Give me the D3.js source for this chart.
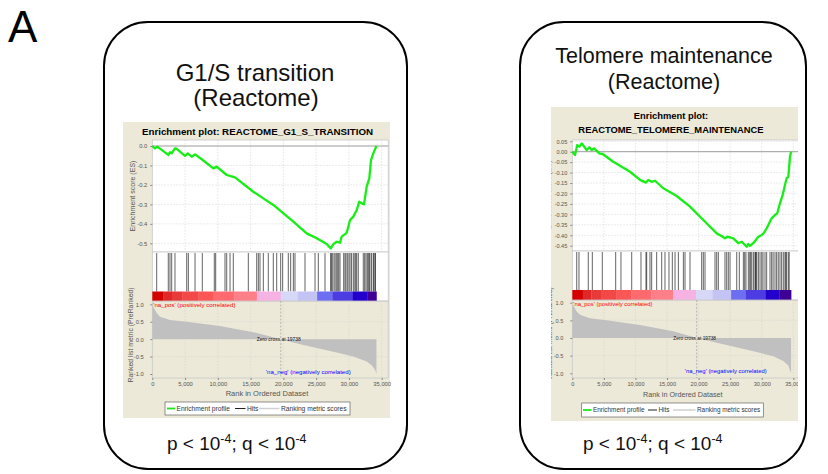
<!DOCTYPE html>
<html><head><meta charset="utf-8">
<script src="https://cdn.jsdelivr.net/npm/d3@7"></script>
<style>
body{margin:0;background:#fff}
svg{display:block}
text{font-family:"Liberation Sans",Arial,Helvetica,sans-serif}
</style>
</head><body>
<svg id="c" width="828" height="474"></svg>
<script>
// ---------------- DATA ----------------
const xTickValues = [0, 5000, 10000, 15000, 20000, 25000, 30000, 35000];
const metricTickValues = [1, 0.5, 0, -0.5, -1];
const g1sEsTicks = [0, -0.1, -0.2, -0.3, -0.4, -0.5];
const telEsTicks = [0.05, 0, -0.05, -0.10, -0.15, -0.20, -0.25, -0.30, -0.35, -0.40, -0.45];

const g1sEsRank  = [0,410,760,1430,2440,2700,2960,3460,3720,4990,5400,6010,6520,7540,9310,9820,11350,12620,15410,16940,18460,21520,23550,25080,26610,27220,27620,28130,28640,28900,29250,29660,30170,30670,31190,31580,31950,32300,32710,33110,33370,33720,34200];
const g1sEsScore = [0,-0.012,-0.003,-0.02,-0.046,-0.032,-0.038,-0.012,-0.015,-0.051,-0.038,-0.055,-0.043,-0.068,-0.115,-0.106,-0.149,-0.161,-0.235,-0.269,-0.303,-0.389,-0.449,-0.474,-0.504,-0.526,-0.504,-0.492,-0.497,-0.466,-0.457,-0.446,-0.380,-0.363,-0.329,-0.286,-0.295,-0.300,-0.209,-0.166,-0.072,-0.038,0];

const telEsRank  = [0,430,790,1110,1490,2280,2690,3070,3440,4280,4810,6490,7820,9140,10720,11670,12040,12570,13100,14410,16530,18640,20750,22870,23820,24180,24550,25500,26290,26830,27620,27870,28140,28660,29460,29990,30350,30780,31040,31570,32100,32460,32890,33320,33680,33950,34210,34480,34650];
const telEsScore = [0,-0.016,0.032,0.024,0.040,0.008,0.021,0.008,0.016,-0.008,-0.011,-0.048,-0.072,-0.096,-0.135,-0.148,-0.135,-0.144,-0.139,-0.175,-0.212,-0.263,-0.327,-0.391,-0.407,-0.415,-0.407,-0.415,-0.438,-0.431,-0.455,-0.442,-0.451,-0.438,-0.407,-0.399,-0.388,-0.367,-0.351,-0.319,-0.303,-0.295,-0.247,-0.207,-0.159,-0.127,-0.120,-0.024,0];

const g1sHits = [670,2440,2700,2960,3460,5250,5500,6520,7630,9460,9670,11090,11350,11860,12360,14650,15930,16180,16430,16940,17700,18460,18980,19590,19890,20750,21110,21520,21770,23300,24830,25330,26350,27200,27370,27450,27720,27900,28130,28300,28450,28640,29200,29400,29550,29760,30000,30170,30400,30670,30900,31050,31190,31430,32190,32400,32600,32800,32950,33100,33210,33450,33710,33800,33970,34050];
const telHits = [700,1060,2530,3170,4750,6870,7710,9410,10880,11670,11780,12300,12570,13360,14160,14680,15310,15840,16270,16800,17590,17850,18640,20490,20750,21020,22600,22870,23130,24180,24450,24710,24980,26040,26450,27090,27300,27500,27880,28100,28250,28420,28680,28940,29000,29100,29210,29470,29730,30000,30200,30520,30780,31310,31570,31800,32100,32360,32620,32890,33150,33420,33680,33800,33940,34210,34350];

const g1sMetricRank = [0,150,660,1170,2700,5250,10330,15410,19600,23040,28130,30670,32710,33470,33980,34200];
const g1sMetricVal  = [1.0,0.93,0.75,0.64,0.55,0.50,0.38,0.20,0,-0.17,-0.38,-0.50,-0.64,-0.75,-0.88,-1.0];
const telMetricRank = [0,150,690,1220,2800,5430,10710,15990,19700,23910,29190,31830,33410,34200,34650];
const telMetricVal  = [1.0,0.93,0.75,0.66,0.56,0.50,0.37,0.19,0,-0.18,-0.40,-0.52,-0.65,-0.78,-1.0];

const colorBarBreaks = [0,1650,3000,4550,7000,9350,12500,15950,19600,22200,25150,27500,30600,32800];
const colorBarColors = ['#d40000','#e12828','#e93a3a','#f34848','#fb5656','#ff6a6e','#ff7f88','#f7b2e4','#d7d7f8','#c4c4f4','#6e6ef0','#4c3ce2','#2400cc','#3e0094'];

const g1sZeroCross = 19600, telZeroCross = 19700;
const g1sTotal = 34200, telTotal = 34650;

// ---------------- LAYOUT ----------------
const svg = d3.select('#c');
const FONT = '"Liberation Sans",Arial,Helvetica,sans-serif';

svg.append('text').attr('x', 8).attr('y', 42).attr('font-size', 44).attr('fill', '#000').text('A');

svg.append('rect').attr('x', 104).attr('y', 22).attr('width', 303).attr('height', 447).attr('rx', 44)
  .attr('fill', 'none').attr('stroke', '#000').attr('stroke-width', 2);
svg.append('rect').attr('x', 520).attr('y', 22).attr('width', 286).attr('height', 447).attr('rx', 44)
  .attr('fill', 'none').attr('stroke', '#000').attr('stroke-width', 2);

function boxText(cx, y, txt, fs) {
  svg.append('text').attr('x', cx).attr('y', y).attr('text-anchor', 'middle')
    .attr('font-size', fs).attr('fill', '#111').text(txt);
}
boxText(255, 81, 'G1/S transition', 24);
boxText(256, 106, '(Reactome)', 24);
boxText(664, 63, 'Telomere maintenance', 21.5);
boxText(664, 89, '(Reactome)', 21.5);

function pq(x, y) {
  const t = svg.append('text').attr('x', x).attr('y', y).attr('font-size', 19).attr('fill', '#111');
  t.append('tspan').text('p < 10');
  t.append('tspan').attr('font-size', 12.5).attr('dy', -7).text('-4');
  t.append('tspan').attr('dy', 7).text('; q < 10');
  t.append('tspan').attr('font-size', 12.5).attr('dy', -7).text('-4');
}
pq(167, 450);
pq(583, 450);

function drawGsea(cfg) {
  const g = svg.append('g');
  if (cfg.clipRight) {
    const id = 'clip' + Math.round(cfg.bg[0]);
    svg.append('clipPath').attr('id', id).append('rect')
      .attr('x', cfg.bg[0]).attr('y', cfg.bg[1]).attr('width', cfg.clipRight - cfg.bg[0]).attr('height', cfg.bg[3]);
    g.attr('clip-path', `url(#${id})`);
  }
  const s = cfg.s;
  g.append('rect').attr('x', cfg.bg[0]).attr('y', cfg.bg[1]).attr('width', cfg.bg[2]).attr('height', cfg.bg[3]).attr('fill', '#ece9d8');

  cfg.title.forEach((t, i) => {
    g.append('text').attr('x', cfg.titleX).attr('y', cfg.titleY[i]).attr('text-anchor', 'middle')
      .attr('font-size', 9.4 * s).attr('font-weight', 'bold').attr('fill', '#000').text(t);
  });

  const x = d3.scaleLinear().domain([0, 35000]).range([cfg.x0, cfg.x35]);
  const xL = cfg.x0, xR = x(36000);
  const yEs = d3.scaleLinear().domain(cfg.esDom).range(cfg.esRng);
  const yM = d3.scaleLinear().domain([1, -1]).range(cfg.mRng);

  g.append('rect').attr('x', xL).attr('y', cfg.esTop).attr('width', xR - xL).attr('height', cfg.esBot - cfg.esTop)
    .attr('fill', '#fff').attr('stroke', '#c8c8c8').attr('stroke-width', 0.8);
  const grid = g.append('g').attr('stroke', '#d4d4d4').attr('stroke-width', 0.6).attr('stroke-dasharray', '1.5,1.5');
  xTickValues.slice(1).forEach(v => {
    grid.append('line').attr('x1', x(v)).attr('x2', x(v)).attr('y1', cfg.esTop).attr('y2', cfg.esBot);
    grid.append('line').attr('x1', x(v)).attr('x2', x(v)).attr('y1', cfg.mTop).attr('y2', cfg.mBot);
  });
  cfg.esTicks.forEach(v => {
    if (Math.abs(v) > 1e-9) grid.append('line').attr('x1', xL).attr('x2', xR).attr('y1', yEs(v)).attr('y2', yEs(v));
  });
  [0.5, -0.5].forEach(v => grid.append('line').attr('x1', xL).attr('x2', xR).attr('y1', yM(v)).attr('y2', yM(v)));

  g.append('line').attr('x1', xL).attr('x2', xR).attr('y1', yEs(0)).attr('y2', yEs(0)).attr('stroke', '#909090').attr('stroke-width', 0.9);

  const esPts = cfg.esRank.map((r, i) => [r, cfg.esScore[i]]);
  g.append('path').datum(esPts)
    .attr('d', d3.line().x(d => x(d[0])).y(d => yEs(d[1])))
    .attr('fill', 'none').attr('stroke', '#16ee16').attr('stroke-width', 2.3).attr('stroke-linejoin', 'round');

  const esAxis = d3.axisLeft(yEs).tickValues(cfg.esTicks).tickSize(2).tickPadding(3)
    .tickFormat(d => d.toFixed(cfg.esDec));
  const ea = g.append('g').attr('transform', `translate(${xL},0)`).call(esAxis);
  ea.select('.domain').remove();
  ea.selectAll('line').attr('stroke', '#888');
  ea.selectAll('text').attr('font-size', 5.6 * s).attr('fill', '#555').attr('font-family', FONT);

  g.append('text').attr('transform', `translate(${cfg.yLabX[0]},${cfg.esLabY}) rotate(-90)`)
    .attr('text-anchor', 'middle').attr('font-size', 6.8 * s).attr('fill', '#555').text('Enrichment score (ES)');

  g.append('rect').attr('x', xL).attr('y', cfg.hitTop).attr('width', xR - xL).attr('height', cfg.cbBot - cfg.hitTop)
    .attr('fill', '#fff').attr('stroke', '#c8c8c8').attr('stroke-width', 0.8);
  g.append('g').selectAll('line').data(cfg.hits).join('line')
    .attr('x1', d => x(d)).attr('x2', d => x(d)).attr('y1', cfg.hitTop + 1).attr('y2', cfg.cbTop)
    .attr('stroke', '#1a1a1a').attr('stroke-width', 0.9).attr('stroke-opacity', 0.75);

  const ends = colorBarBreaks.slice(1).concat([cfg.total]);
  g.append('g').selectAll('rect').data(colorBarBreaks).join('rect')
    .attr('x', d => x(d)).attr('y', cfg.cbTop)
    .attr('width', (d, i) => x(ends[i]) - x(d) + 0.3).attr('height', cfg.cbBot - cfg.cbTop)
    .attr('fill', (d, i) => colorBarColors[i]);

  g.append('rect').attr('x', xL).attr('y', cfg.mTop).attr('width', xR - xL).attr('height', cfg.mBot - cfg.mTop)
    .attr('fill', 'none').attr('stroke', '#c8c8c8').attr('stroke-width', 0.8);
  const mPts = cfg.mRank.map((r, i) => [r, cfg.mVal[i]]);
  g.append('path').datum(mPts)
    .attr('d', d3.area().x(d => x(d[0])).y0(yM(0)).y1(d => yM(d[1])))
    .attr('fill', '#c0c0c0');
  g.append('line').attr('x1', x(cfg.zero)).attr('x2', x(cfg.zero)).attr('y1', cfg.mTop).attr('y2', cfg.mBot)
    .attr('stroke', '#a0a0a0').attr('stroke-width', 0.7).attr('stroke-dasharray', '2,1.5');
  g.append('text').attr('x', x(cfg.zero) - 2).attr('y', yM(0) + 1.8).attr('text-anchor', 'middle')
    .attr('font-size', 4.8 * s).attr('fill', '#111').text(cfg.zeroText);
  g.append('text').attr('x', xL + 1).attr('y', cfg.posY).attr('font-size', 5.9 * s).attr('fill', '#f00')
    .text("'na_pos' (positively correlated)");
  g.append('text').attr('x', cfg.negX).attr('y', cfg.negY).attr('text-anchor', 'end').attr('font-size', 5.9 * s).attr('fill', '#00f')
    .text("'na_neg' (negatively correlated)");

  const mAxis = d3.axisLeft(yM).tickValues(metricTickValues).tickSize(2).tickPadding(cfg.mPad)
    .tickFormat(d => d.toFixed(1));
  const ma = g.append('g').attr('transform', `translate(${xL},0)`).call(mAxis);
  ma.select('.domain').remove();
  ma.selectAll('line').attr('stroke', '#888');
  ma.selectAll('text').attr('font-size', 5.6 * s).attr('fill', '#555').attr('font-family', FONT);

  const xAxis = d3.axisBottom(x).tickValues(xTickValues).tickSize(2).tickPadding(2)
    .tickFormat(d3.format(','));
  const xa = g.append('g').attr('transform', `translate(0,${cfg.mBot})`).call(xAxis);
  xa.select('.domain').remove();
  xa.selectAll('line').attr('stroke', '#888');
  xa.selectAll('text').attr('font-size', 5.6 * s).attr('fill', '#555').attr('font-family', FONT);

  g.append('text').attr('x', (cfg.x0 + cfg.x35) / 2).attr('y', cfg.xLabY).attr('text-anchor', 'middle')
    .attr('font-size', 7.2 * s).attr('fill', '#555').text('Rank in Ordered Dataset');
  g.append('text').attr('transform', `translate(${cfg.yLabX[1]},${cfg.mLabY}) rotate(-90)`)
    .attr('text-anchor', 'middle').attr('font-size', 6.6 * s).attr('fill', '#555').text('Ranked list metric (PreRanked)');

  const [lx, ly, lw, lh] = cfg.legend;
  const lg = g.append('g');
  lg.append('rect').attr('x', lx).attr('y', ly).attr('width', lw).attr('height', lh)
    .attr('fill', '#fff').attr('stroke', '#666').attr('stroke-width', 0.7);
  const my = ly + lh / 2;
  cfg.legendItems.forEach(it => {
    lg.append('line').attr('x1', it[0]).attr('x2', it[1]).attr('y1', my).attr('y2', my)
      .attr('stroke', it[3]).attr('stroke-width', it[4]);
    lg.append('text').attr('x', it[1] + 1.5).attr('y', my + 2.3).attr('font-size', 6.4 * s).attr('fill', '#333').text(it[2]);
  });
}

drawGsea({
  s: 1.038, bg: [123, 122, 267, 296],
  title: ['Enrichment plot: REACTOME_G1_S_TRANSITION'], titleX: 257.5, titleY: [135],
  x0: 152.3, x35: 381.7,
  esDom: [0, -0.5], esRng: [146, 243.3], esTop: 140, esBot: 252, esTicks: g1sEsTicks, esDec: 1,
  esRank: g1sEsRank, esScore: g1sEsScore,
  hitTop: 252, cbTop: 291.5, cbBot: 301, hits: g1sHits, total: g1sTotal,
  mTop: 301, mBot: 378, mRng: [304.3, 374], mRank: g1sMetricRank, mVal: g1sMetricVal, mPad: 6.5,
  zero: g1sZeroCross, zeroText: 'Zero cross at 19738',
  posY: 306.5, negX: 350.7, negY: 374,
  xLabY: 396, yLabX: [134.5, 133], esLabY: 196, mLabY: 335,
  legend: [165, 402, 185, 13],
  legendItems: [[167, 175, 'Enrichment profile', '#16ee16', 1.8], [235, 245.5, 'Hits', '#222', 1], [259, 279.5, 'Ranking metric scores', '#d0d0d0', 1.5]]
});

drawGsea({
  s: 1.0, bg: [551, 107, 260, 314], clipRight: 798,
  title: ['Enrichment plot:', 'REACTOME_TELOMERE_MAINTENANCE'], titleX: 671, titleY: [118.5, 132.5],
  x0: 572.3, x35: 793.3,
  esDom: [0, -0.45], esRng: [151.7, 245.7], esTop: 140, esBot: 251, esTicks: telEsTicks, esDec: 2,
  esRank: telEsRank, esScore: telEsScore,
  hitTop: 251, cbTop: 290, cbBot: 300, hits: telHits, total: telTotal,
  mTop: 300, mBot: 378, mRng: [302.7, 373.3], mRank: telMetricRank, mVal: telMetricVal, mPad: 7,
  zero: telZeroCross, zeroText: 'Zero cross at 19738',
  posY: 305.5, negX: 766.7, negY: 372.7,
  xLabY: 396.5, yLabX: [551, 552], esLabY: 195, mLabY: 333,
  legend: [581.7, 403, 181.6, 14],
  legendItems: [[583, 591.5, 'Enrichment profile', '#16ee16', 1.8], [648, 657, 'Hits', '#222', 1], [673, 695.5, 'Ranking metric scores', '#d0d0d0', 1.5]]
});
</script>
</body></html>
